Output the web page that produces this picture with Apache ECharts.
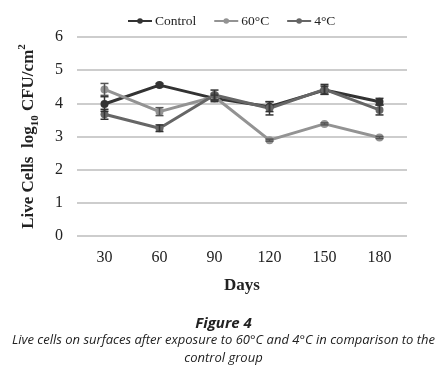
<!DOCTYPE html>
<html>
<head>
<meta charset="utf-8">
<script src="https://cdn.jsdelivr.net/npm/echarts@6/dist/echarts.min.js"></script>
<style>
  html, body { margin: 0; padding: 0; background: #fff; }
  #chart { width: 447px; height: 374px; }
</style>
</head>
<body>
<div id="chart"></div>
<script>
var days = ['30', '60', '90', '120', '150', '180'];
var control = [3.98, 4.55, 4.15, 3.9, 4.4, 4.05];
var controlErr = [0.22, 0.05, 0.1, 0.15, 0.12, 0.1];
var hot = [4.42, 3.75, 4.2, 2.89, 3.38, 2.97];
var hotErr = [0.18, 0.12, 0.1, 0.03, 0.03, 0.03];
var cold = [3.67, 3.25, 4.25, 3.85, 4.42, 3.8];
var coldErr = [0.15, 0.1, 0.15, 0.2, 0.15, 0.15];
var yTicks = [0, 1, 2, 3, 4, 5, 6];

var dom = document.getElementById('chart');
var myChart = echarts.init(dom);

function errSeries(vals, errs, color) {
  var data = [];
  for (var i = 0; i < vals.length; i++) {
    data.push([i, vals[i] - errs[i], vals[i] + errs[i]]);
  }
  return {
    type: 'custom',
    data: data,
    z: 5,
    renderItem: function (params, api) {
      var lo = api.coord([api.value(0), api.value(1)]);
      var hi = api.coord([api.value(0), api.value(2)]);
      var w = 4;
      var st = { stroke: color, lineWidth: 1.5 };
      return {
        type: 'group',
        children: [
          { type: 'line', shape: { x1: lo[0], y1: lo[1], x2: hi[0], y2: hi[1] }, style: st },
          { type: 'line', shape: { x1: lo[0] - w, y1: lo[1], x2: lo[0] + w, y2: lo[1] }, style: st },
          { type: 'line', shape: { x1: hi[0] - w, y1: hi[1], x2: hi[0] + w, y2: hi[1] }, style: st }
        ]
      };
    }
  };
}

function lineSeries(name, vals, color) {
  return {
    name: name,
    type: 'line',
    data: vals,
    symbol: 'circle',
    symbolSize: 8,
    z: 3,
    lineStyle: { color: color, width: 3 },
    itemStyle: { color: color }
  };
}

var serif = '"Liberation Serif", "DejaVu Serif", serif';
var capFont = '"Open Sans", sans-serif';

var option = {
  animation: false,
  textStyle: { fontFamily: serif },
  legend: {
    top: 9,
    left: 122,
    itemWidth: 24,
    itemHeight: 7,
    itemGap: 17,
    textStyle: { fontFamily: serif, fontSize: 13.5, color: '#222', padding: [0, 0, 0, -2] },
    data: ['Control', '60°C', '4°C']
  },
  grid: { left: 77, right: 40, top: 37, bottom: 138 },
  xAxis: {
    type: 'category',
    data: days,
    boundaryGap: true,
    axisLine: { show: false },
    axisTick: { show: false },
    axisLabel: { fontFamily: serif, fontSize: 16, color: '#222', margin: 14 },
    name: 'Days',
    nameLocation: 'middle',
    nameGap: 41,
    nameTextStyle: { fontFamily: serif, fontSize: 17, fontWeight: 'bold', color: '#222' }
  },
  yAxis: {
    type: 'value',
    min: 0,
    max: 6,
    interval: 1,
    axisLine: { show: false },
    axisTick: { show: false },
    splitLine: { lineStyle: { color: '#bdbdbd', width: 1.5 } },
    axisLabel: {
      fontFamily: serif, fontSize: 16, color: '#222', margin: 14,
      formatter: function (v) { return yTicks.indexOf(v) >= 0 ? String(v) : ''; }
    },
    name: 'Live Cells  log{sub|10} CFU/cm{sup|2}',
    nameLocation: 'middle',
    nameGap: 36,
    nameTextStyle: {
      fontFamily: serif, fontSize: 17, fontWeight: 'bold', color: '#222', lineHeight: 24,
      rich: {
        sub: { fontFamily: serif, fontSize: 11, fontWeight: 'bold', color: '#222', verticalAlign: 'bottom', lineHeight: 24, padding: [10, 0, 0, 0] },
        sup: { fontFamily: serif, fontSize: 11, fontWeight: 'bold', color: '#222', verticalAlign: 'top', lineHeight: 24, padding: [0, 0, 8, 0] }
      }
    }
  },
  graphic: [
    {
      type: 'text', left: 'center', top: 316,
      style: { text: 'Figure 4', font: 'italic bold 15px ' + capFont, fill: '#222' }
    },
    {
      type: 'text', left: 'center', top: 334,
      style: {
        text: 'Live cells on surfaces after exposure to 60°C and 4°C in comparison to the',
        font: 'italic 13px ' + capFont, fill: '#222'
      }
    },
    {
      type: 'text', left: 'center', top: 352,
      style: { text: 'control group', font: 'italic 13px ' + capFont, fill: '#222' }
    }
  ],
  series: [
    lineSeries('Control', control, '#333333'),
    lineSeries('60°C', hot, '#939393'),
    lineSeries('4°C', cold, '#666666'),
    errSeries(control, controlErr, '#333333'),
    errSeries(hot, hotErr, '#555555'),
    errSeries(cold, coldErr, '#333333')
  ]
};

if (option && typeof option === 'object') {
  myChart.setOption(option);
}
</script>
</body>
</html>
